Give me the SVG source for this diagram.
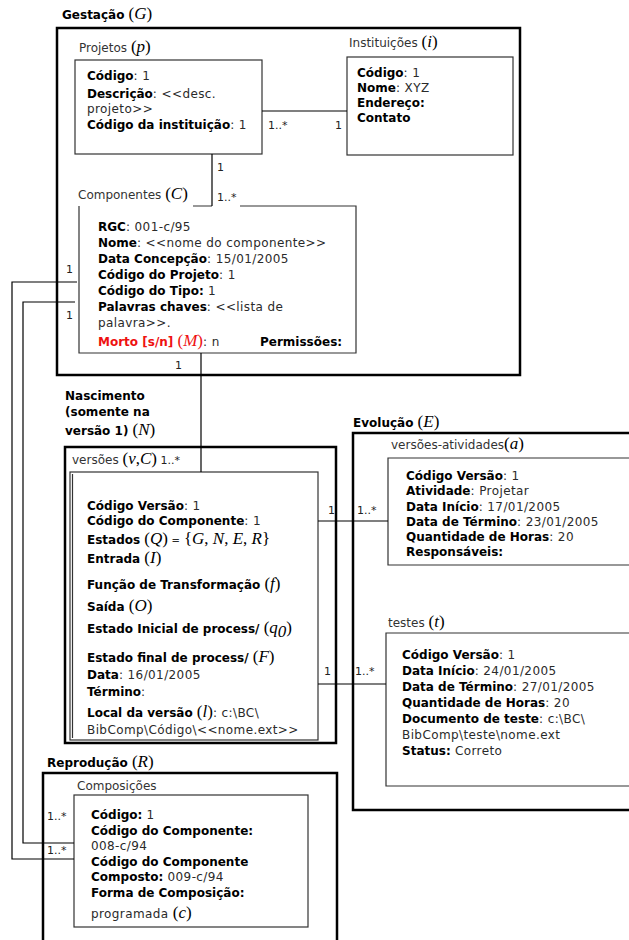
<svg xmlns="http://www.w3.org/2000/svg" width="629" height="940" viewBox="0 0 629 940">
  <style>
    text { font-family: "DejaVu Sans", Verdana, sans-serif; font-size: 12px; fill: #1a1a1a; }
    .b { font-weight: bold; fill: #000; }
    .r { font-weight: normal; fill: #2a2a2a; letter-spacing: 0.4px; }
    .s { font-family: "Liberation Serif", "Times New Roman", serif; font-size: 17px; font-style: normal; fill: #000; letter-spacing: 0; }
    .i { font-family: "Liberation Serif", "Times New Roman", serif; font-size: 17px; font-style: italic; fill: #000; letter-spacing: 0; }
    .red { fill: #ee1111; }
    .card { font-size: 11px; fill: #222; }
    .lbl { fill: #333; }
    .frame { fill: none; stroke: #000; stroke-width: 2.5; }
    .box { fill: none; stroke: #333; stroke-width: 1.2; }
    .conn { fill: none; stroke: #000; stroke-width: 1.2; }
  </style>

  <rect width="629" height="940" fill="#fff"/>

  <!-- Gestação stage -->
  <g id="gestacao">
    <text x="62" y="19"><tspan class="b">Gestação </tspan><tspan class="s">(</tspan><tspan class="i">G</tspan><tspan class="s">)</tspan></text>
    <rect class="frame" x="57" y="28" width="463" height="347"/>
  </g>

  <g id="projetos">
    <text x="79" y="52" class="lbl">Projetos <tspan class="s">(</tspan><tspan class="i">p</tspan><tspan class="s">)</tspan></text>
    <rect class="box" x="75" y="60" width="187" height="94"/>
    <text x="87" y="80"><tspan class="b">Código</tspan><tspan class="r">: 1</tspan></text>
    <text x="87" y="98"><tspan class="b">Descrição</tspan><tspan class="r">: &lt;&lt;desc.</tspan></text>
    <text x="87" y="113" class="r">projeto&gt;&gt;</text>
    <text x="87" y="129"><tspan class="b">Código da instituição</tspan><tspan class="r">: 1</tspan></text>
  </g>

  <g id="instituicoes">
    <text x="349" y="47" class="lbl">Instituições <tspan class="s">(</tspan><tspan class="i">i</tspan><tspan class="s">)</tspan></text>
    <rect class="box" x="347" y="57" width="166" height="98"/>
    <text x="357" y="77"><tspan class="b">Código</tspan><tspan class="r">: 1</tspan></text>
    <text x="357" y="92"><tspan class="b">Nome</tspan><tspan class="r">: XYZ</tspan></text>
    <text x="357" y="107" class="b">Endereço:</text>
    <text x="357" y="122" class="b">Contato</text>
  </g>

  <g id="componentes">
    <text x="78" y="199" class="lbl">Componentes <tspan class="s">(</tspan><tspan class="i">C</tspan><tspan class="s">)</tspan></text>
    <path class="box" d="M193,206 H212 M240,206 H356 V353 H79 V206"/>
    <text x="98" y="231"><tspan class="b">RGC</tspan><tspan class="r">: 001-c/95</tspan></text>
    <text x="98" y="247"><tspan class="b">Nome</tspan><tspan class="r">: &lt;&lt;nome do componente&gt;&gt;</tspan></text>
    <text x="98" y="263"><tspan class="b">Data Concepção</tspan><tspan class="r">: 15/01/2005</tspan></text>
    <text x="98" y="279"><tspan class="b">Código do Projeto</tspan><tspan class="r">: 1</tspan></text>
    <text x="98" y="295"><tspan class="b">Código do Tipo:</tspan><tspan class="r"> 1</tspan></text>
    <text x="98" y="311"><tspan class="b">Palavras chaves</tspan><tspan class="r">: &lt;&lt;lista de</tspan></text>
    <text x="98" y="327" class="r">palavra&gt;&gt;.</text>
    <text x="98" y="346"><tspan class="b red">Morto [s/n] </tspan><tspan class="s red">(</tspan><tspan class="i red">M</tspan><tspan class="s red">)</tspan><tspan class="r">: n</tspan></text>
    <text x="260" y="346" class="b">Permissões:</text>
  </g>

  <!-- Nascimento stage -->
  <g id="nascimento">
    <text x="65" y="400" class="b">Nascimento</text>
    <text x="65" y="416" class="b">(somente na</text>
    <text x="65" y="435"><tspan class="b">versão 1) </tspan><tspan class="s">(</tspan><tspan class="i">N</tspan><tspan class="s">)</tspan></text>
    <rect class="frame" x="65" y="447" width="271" height="296"/>
  </g>

  <g id="versoes">
    <text x="72" y="464" class="lbl">versões <tspan class="s">(</tspan><tspan class="i">v</tspan><tspan class="s">,</tspan><tspan class="i">C</tspan><tspan class="s">)</tspan><tspan class="card"> 1..*</tspan></text>
    <rect class="box" x="70" y="472" width="248" height="268"/>
    <line class="box" x1="72.5" y1="474" x2="72.5" y2="738"/>
    <text x="87" y="510"><tspan class="b">Código Versão</tspan><tspan class="r">: 1</tspan></text>
    <text x="87" y="525"><tspan class="b">Código do Componente</tspan><tspan class="r">: 1</tspan></text>
    <text x="87" y="544"><tspan class="b">Estados </tspan><tspan class="s">(</tspan><tspan class="i">Q</tspan><tspan class="s">)</tspan><tspan class="r" font-size="10"> = </tspan><tspan class="s">{</tspan><tspan class="i">G</tspan><tspan class="s">, </tspan><tspan class="i">N</tspan><tspan class="s">, </tspan><tspan class="i">E</tspan><tspan class="s">, </tspan><tspan class="i">R</tspan><tspan class="s">}</tspan></text>
    <text x="87" y="563"><tspan class="b">Entrada </tspan><tspan class="s">(</tspan><tspan class="i">I</tspan><tspan class="s">)</tspan></text>
    <text x="87" y="589"><tspan class="b">Função de Transformação </tspan><tspan class="s">(</tspan><tspan class="i">f</tspan><tspan class="s">)</tspan></text>
    <text x="87" y="611"><tspan class="b">Saída </tspan><tspan class="s">(</tspan><tspan class="i">O</tspan><tspan class="s">)</tspan></text>
    <text x="87" y="633"><tspan class="b">Estado Inicial de process/ </tspan><tspan class="s">(</tspan><tspan class="i">q</tspan><tspan class="i" font-size="14" dy="4">0</tspan><tspan class="s" dy="-4">)</tspan></text>
    <text x="87" y="662"><tspan class="b">Estado final de process/ </tspan><tspan class="s">(</tspan><tspan class="i">F</tspan><tspan class="s">)</tspan></text>
    <text x="87" y="679"><tspan class="b">Data</tspan><tspan class="r">: 16/01/2005</tspan></text>
    <text x="87" y="696"><tspan class="b">Término</tspan><tspan class="r">:</tspan></text>
    <text x="87" y="717"><tspan class="b">Local da versão </tspan><tspan class="s">(</tspan><tspan class="i">l</tspan><tspan class="s">)</tspan><tspan class="r">: c:\BC\</tspan></text>
    <text x="87" y="734" class="r">BibComp\Código\&lt;&lt;nome.ext&gt;&gt;</text>
  </g>

  <!-- Evolução stage -->
  <g id="evolucao">
    <text x="353" y="427"><tspan class="b">Evolução </tspan><tspan class="s">(</tspan><tspan class="i">E</tspan><tspan class="s">)</tspan></text>
    <path class="frame" d="M629,433 H353 V810 H629"/>
  </g>

  <g id="versoes-atividades">
    <text x="391" y="449" class="lbl">versões-atividades<tspan class="s">(</tspan><tspan class="i">a</tspan><tspan class="s">)</tspan></text>
    <path class="box" d="M629,458 H388 V565 H629"/>
    <text x="406" y="480"><tspan class="b">Código Versão</tspan><tspan class="r">: 1</tspan></text>
    <text x="406" y="495"><tspan class="b">Atividade</tspan><tspan class="r">: Projetar</tspan></text>
    <text x="406" y="511"><tspan class="b">Data Início</tspan><tspan class="r">: 17/01/2005</tspan></text>
    <text x="406" y="526"><tspan class="b">Data de Término</tspan><tspan class="r">: 23/01/2005</tspan></text>
    <text x="406" y="541"><tspan class="b">Quantidade de Horas</tspan><tspan class="r">: 20</tspan></text>
    <text x="406" y="556" class="b">Responsáveis:</text>
  </g>

  <g id="testes">
    <text x="388" y="627" class="lbl">testes <tspan class="s">(</tspan><tspan class="i">t</tspan><tspan class="s">)</tspan></text>
    <path class="box" d="M629,633 H386 V786 H629"/>
    <text x="402" y="659"><tspan class="b">Código Versão</tspan><tspan class="r">: 1</tspan></text>
    <text x="402" y="675"><tspan class="b">Data Início</tspan><tspan class="r">: 24/01/2005</tspan></text>
    <text x="402" y="691"><tspan class="b">Data de Término</tspan><tspan class="r">: 27/01/2005</tspan></text>
    <text x="402" y="707"><tspan class="b">Quantidade de Horas</tspan><tspan class="r">: 20</tspan></text>
    <text x="402" y="723"><tspan class="b">Documento de teste</tspan><tspan class="r">: c:\BC\</tspan></text>
    <text x="402" y="739" class="r">BibComp\teste\nome.ext</text>
    <text x="402" y="755"><tspan class="b">Status:</tspan><tspan class="r"> Correto</tspan></text>
  </g>

  <!-- Reprodução stage -->
  <g id="reproducao">
    <text x="47" y="767"><tspan class="b">Reprodução </tspan><tspan class="s">(</tspan><tspan class="i">R</tspan><tspan class="s">)</tspan></text>
    <path class="frame" d="M43,940 V773 H337 V940"/>
  </g>

  <g id="composicoes">
    <text x="77" y="790" class="lbl">Composições</text>
    <rect class="box" x="74" y="795" width="234" height="132"/>
    <text x="91" y="819"><tspan class="b">Código:</tspan><tspan class="r"> 1</tspan></text>
    <text x="91" y="835" class="b">Código do Componente:</text>
    <text x="91" y="850" class="r">008-c/94</text>
    <text x="91" y="866" class="b">Código do Componente</text>
    <text x="91" y="881"><tspan class="b">Composto:</tspan><tspan class="r"> 009-c/94</tspan></text>
    <text x="91" y="897" class="b">Forma de Composição:</text>
    <text x="91" y="918"><tspan class="r">programada </tspan><tspan class="s">(</tspan><tspan class="i">c</tspan><tspan class="s">)</tspan></text>
  </g>

  <!-- Connectors and their multiplicities -->
  <g id="connectors">
    <line class="conn" x1="262" y1="111" x2="347" y2="111"/>
    <text class="card" x="268" y="129">1..*</text>
    <text class="card" x="335" y="129">1</text>

    <line class="conn" x1="212" y1="154" x2="212" y2="206"/>
    <text class="card" x="217" y="171">1</text>
    <text class="card" x="217" y="201">1..*</text>

    <polyline class="conn" points="77,282 12,282 12,859 74,859"/>
    <text class="card" x="66" y="273">1</text>
    <text class="card" x="47" y="854">1..*</text>

    <polyline class="conn" points="75,302 23,302 23,843 74,843"/>
    <text class="card" x="66" y="319">1</text>
    <text class="card" x="47" y="820">1..*</text>

    <line class="conn" x1="201" y1="353" x2="201" y2="472"/>
    <text class="card" x="175" y="369">1</text>

    <line class="conn" x1="318" y1="521" x2="388" y2="521"/>
    <text class="card" x="328" y="514">1</text>
    <text class="card" x="357" y="514">1..*</text>

    <line class="conn" x1="318" y1="684" x2="386" y2="684"/>
    <text class="card" x="324" y="675">1</text>
    <text class="card" x="355" y="675">1..*</text>
  </g>
</svg>
